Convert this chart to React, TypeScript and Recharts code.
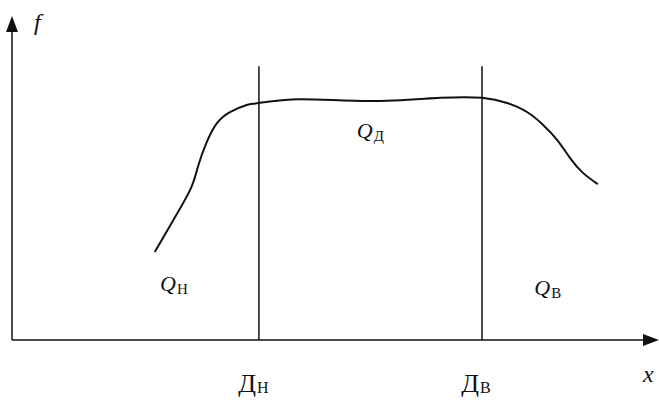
import { LineChart, Line, XAxis, YAxis, ReferenceLine, ReferenceDot } from "recharts";

// curve f(x) (axis units 0..100)
const xs = [22.2, 24.9, 27.7, 28.9, 30.3, 31.9, 33.9, 36.5, 38.4, 44.8, 55.7, 66.6, 73.1, 77.0, 80.1, 82.6, 84.8, 86.8, 88.8, 91.1];
const fs = [27.3, 36.6, 46.6, 53.7, 61.5, 67.4, 70.8, 73.0, 73.6, 74.8, 74.2, 75.2, 75.2, 73.6, 70.8, 66.8, 62.1, 56.5, 51.9, 48.4];

// boundaries Дн / Дв
const bounds = [38.4, 73.1];
const boundSubs = ["Н", "В"];
const boundTop = 85;

// region labels Qн, Qд, Qв (anchor = where Q ends and the index starts)
const regionSubs = ["Н", "Д", "В"];
const regionX = [25.5, 56.1, 83.7];
const regionY = [15.2, 62.7, 14.0];

const data = xs.map((x, i) => ({ x, f: fs[i] }));

const FONT = "Liberation Serif";

// main letter + lowered index, drawn as two plain texts (no tspans)
const Indexed = (x: number, y: number, main: string, sub: string, size: number, subSize: number, italic: boolean, drop: number) => (
  <g>
    <text x={x} y={y} textAnchor="end" fontFamily={FONT} fontSize={size} fontStyle={italic ? "italic" : "normal"} fill="#111">
      {main}
    </text>
    <text x={x + 1} y={y + drop} textAnchor="start" fontFamily={FONT} fontSize={subSize} fill="#111">
      {sub}
    </text>
  </g>
);

const QLabel = (sub: string) => (p: any) => Indexed(p.cx, p.cy, "Q", sub, 22, 15, true, 3);

const BoundTick = (p: any) => {
  const i = bounds.indexOf(p.payload.value);
  return Indexed(p.x - 3, p.y + 44, "Д", boundSubs[i], 26, 16, false, 1);
};

const UpArrow = (p: any) => (
  <path d={`M${p.cx},${p.cy - 2} l-6,16 l12,0 z`} fill="#111" />
);
const RightArrow = (p: any) => (
  <path d={`M${p.cx + 4},${p.cy} l-16,-6 l0,12 z`} fill="#111" />
);
const AxisName = (name: string, dx: number, dy: number) => (p: any) => (
  <text x={p.cx + dx} y={p.cy + dy} fontFamily={FONT} fontStyle="italic" fontSize={24} fill="#111">
    {name}
  </text>
);

export default function App() {
  return (
    <div style={{ position: "absolute", left: 0, top: 0, background: "#fff" }}>
      <LineChart width={659} height={401} data={data} margin={{ top: 18, right: 4, left: 12, bottom: 0 }}>
        <XAxis
          dataKey="x"
          type="number"
          domain={[0, 100]}
          ticks={bounds}
          tick={BoundTick}
          tickLine={false}
          height={61}
          axisLine={{ stroke: "#111", strokeWidth: 1.5 }}
        />
        <YAxis type="number" domain={[0, 100]} hide />
        <ReferenceLine segment={[{ x: 0, y: 0 }, { x: 0, y: 97 }]} stroke="#111" strokeWidth={1.5} ifOverflow="visible" />
        {bounds.map((b) => (
          <ReferenceLine
            key={b}
            segment={[{ x: b, y: 0 }, { x: b, y: boundTop }]}
            stroke="#111"
            strokeWidth={1.5}
          />
        ))}
        <Line
          type="natural"
          dataKey="f"
          stroke="#111"
          strokeWidth={2}
          dot={false}
          isAnimationActive={false}
        />
        {regionSubs.map((s, i) => (
          <ReferenceDot key={s} x={regionX[i]} y={regionY[i]} r={0} shape={QLabel(s)} ifOverflow="visible" />
        ))}
        <ReferenceDot x={0} y={100} r={0} shape={UpArrow} ifOverflow="visible" />
        <ReferenceDot x={100} y={0} r={0} shape={RightArrow} ifOverflow="visible" />
        <ReferenceDot x={0} y={100} r={0} shape={AxisName("f", 22, 12)} ifOverflow="visible" />
        <ReferenceDot x={100} y={0} r={0} shape={AxisName("x", -12, 42)} ifOverflow="visible" />
      </LineChart>
    </div>
  );
}
